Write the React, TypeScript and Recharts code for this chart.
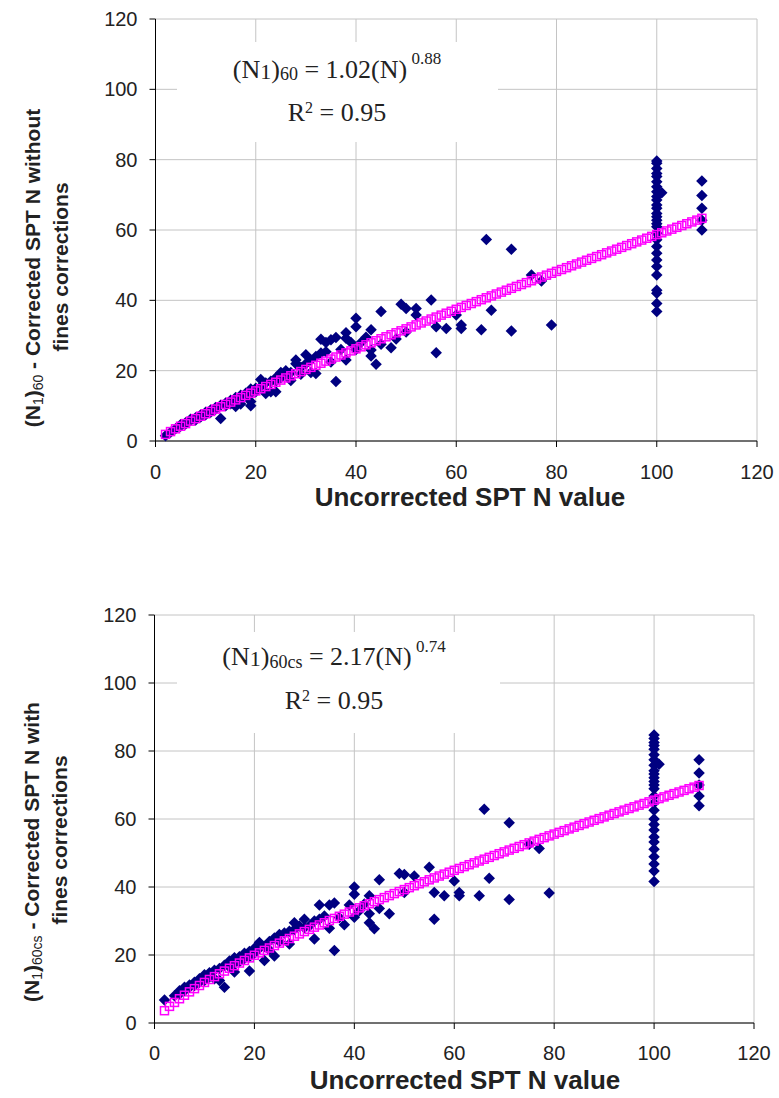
import { CartesianGrid, Scatter, ScatterChart, XAxis, YAxis } from 'recharts'

// uncorrected SPT N, [N, corrected value]
const topObserved: [number, number][] = [
  [2, 1.5], [3, 2.5], [4, 3.5], [5, 4.2], [5, 4.6], [6, 5.2], [6, 4.8], [7, 5.8], [7, 6.2], [8, 6.6], [8, 6.0],
  [9, 7.4], [9, 6.8], [10, 8.2], [10, 7.5], [11, 8.8], [11, 8.2], [12, 9.5], [12, 9.0], [13, 10.2], [13, 6.4],
  [14, 10.8], [14, 10.0], [15, 11.6], [15, 10.6], [16, 12.4], [16, 11.2], [16, 9.8], [17, 13.0], [17, 12.0],
  [17, 10.5], [18, 13.6], [18, 12.8], [19, 14.8], [19, 13.5], [19, 11.2], [19, 10.0], [20, 15.0], [20, 14.0],
  [21, 17.5], [21, 15.5], [22, 16.5], [22, 13.5], [23, 17.0], [23, 14.0], [24, 18.0], [24, 14.0], [24, 17.0],
  [25, 19.5], [25, 18.0], [26, 20.0], [26, 19.0], [27, 19.5], [27, 17.2], [28, 22.0], [28, 23.0], [29, 21.0],
  [29, 19.0], [30, 24.5], [30, 22.0], [31, 23.0], [31, 19.5], [32, 24.0], [32, 19.2], [33, 25.0], [33, 28.9],
  [34, 28.0], [34, 25.4], [35, 28.8], [35, 22.5], [36, 29.4], [36, 16.9], [37, 26.0], [38, 30.8], [38, 29.2],
  [38, 23.0], [39, 28.0], [40, 34.9], [40, 32.5], [40, 26.0], [41, 28.0], [42, 29.5], [43, 31.6], [43, 25.9],
  [43, 24.2], [44, 21.8], [45, 36.8], [45, 27.5], [47, 26.5], [48, 29.0], [49, 38.9], [50, 37.7], [50, 31.0],
  [52, 37.7], [52, 35.8], [55, 40.1], [56, 32.5], [56, 25.1], [58, 32.0], [60, 35.8], [61, 33.0], [61, 32.0],
  [65, 31.6], [66, 57.3], [67, 37.2], [71, 54.5], [71, 31.3], [75, 47.2], [77, 45.5], [79, 33.0], [101, 70.6],
]
const topAt100 = [79.6, 79.0, 77.5, 76.1, 75.2, 73.7, 72.3, 70.9, 69.5, 68.5, 67.1, 66.2, 64.7, 63.8, 62.8,
  61.8, 60.9, 59.1, 57.2, 55.3, 53.4, 51.5, 49.6, 47.2, 42.9, 42.0, 39.1, 36.8]
const topAt109 = [73.9, 69.8, 66.2, 62.8, 60.0]

const bottomObserved: [number, number][] = [
  [2, 6.8], [4, 8.0], [5, 9.5], [5, 8.5], [6, 10.5], [6, 9.5], [7, 11.2], [7, 10.5], [8, 12.0], [8, 11.0],
  [9, 13.0], [9, 12.0], [10, 14.2], [10, 12.5], [11, 14.8], [11, 13.5], [12, 15.5], [12, 13.0], [13, 16.0],
  [13, 12.5], [14, 10.5], [14, 17.0], [15, 18.2], [15, 16.5], [16, 19.2], [16, 17.5], [16, 15.0], [17, 19.5],
  [17, 18.0], [18, 20.5], [18, 19.0], [19, 21.0], [19, 15.3], [19, 19.5], [20, 22.0], [20, 20.5], [21, 23.7],
  [21, 22.0], [22, 18.4], [22, 22.5], [23, 24.0], [23, 21.5], [24, 25.0], [24, 19.7], [25, 26.0], [25, 24.0],
  [26, 26.5], [27, 23.2], [27, 27.0], [28, 29.5], [28, 27.5], [29, 28.5], [30, 30.5], [30, 28.0], [31, 28.5],
  [32, 24.7], [32, 30.0], [33, 34.7], [33, 30.5], [34, 31.5], [35, 34.7], [35, 27.9], [36, 35.3], [36, 21.3],
  [37, 31.0], [38, 28.9], [39, 34.7], [40, 40.0], [40, 37.9], [40, 31.1], [41, 33.0], [42, 35.0], [43, 37.4],
  [43, 32.1], [43, 29.5], [44, 27.7], [45, 42.1], [45, 33.7], [47, 32.1], [49, 44.0], [50, 43.7], [50, 38.4],
  [52, 43.2], [55, 45.8], [56, 38.4], [56, 30.5], [58, 37.4], [60, 41.8], [61, 38.4], [61, 37.4], [65, 37.4],
  [66, 62.9], [67, 42.6], [71, 58.9], [71, 36.3], [75, 52.6], [77, 51.3], [79, 38.2], [101, 76.1],
]
const bottomAt100 = [84.7, 83.7, 82.5, 81.6, 80.5, 78.9, 77.4, 75.8, 74.2, 73.2, 72.1, 71.0, 70.0, 68.9, 66.8,
  64.7, 62.6, 60.0, 58.4, 56.8, 54.7, 53.2, 51.1, 48.9, 46.8, 44.7, 41.6]
const bottomAt109 = [77.4, 73.5, 70.0, 66.8, 63.9]

// trendline markers
const trendN = [2, 3, 4, 5, 6, 7, 8, 9, 10, 11, 12, 13, 14, 15, 16, 17, 18, 19, 20, 21, 22, 23, 24, 25, 26, 27,
  28, 29, 30, 31, 32, 33, 34, 35, 36, 37, 38, 39, 40, 41, 42, 43, 44, 45, 46, 47, 48, 49, 50, 51, 52, 53, 54, 55,
  56, 57, 58, 59, 60, 61, 62, 63, 64, 65, 66, 67, 68, 69, 70, 71, 72, 73, 74, 75, 76, 77, 78, 79, 80, 81, 82, 83,
  84, 85, 86, 87, 88, 89, 90, 91, 92, 93, 94, 95, 96, 97, 98, 99, 100, 101, 102, 103, 104, 105, 106, 107, 108, 109]
const trendTop = [1.88, 2.68, 3.46, 4.2, 4.94, 5.65, 6.36, 7.05, 7.74, 8.41, 9.08, 9.74, 10.4, 11.06, 11.69,
  12.33, 12.97, 13.6, 14.24, 14.86, 15.48, 16.09, 16.71, 17.33, 17.93, 18.54, 19.14, 19.74, 20.35, 20.94, 21.53,
  22.12, 22.71, 23.3, 23.88, 24.46, 25.05, 25.63, 26.21, 26.78, 27.35, 27.92, 28.5, 29.07, 29.63, 30.2, 30.76,
  31.33, 31.89, 32.45, 33.01, 33.57, 34.12, 34.68, 35.24, 35.79, 36.34, 36.89, 37.45, 37.99, 38.54, 39.09, 39.63,
  40.18, 40.72, 41.26, 41.8, 42.34, 42.88, 43.42, 43.96, 44.49, 45.03, 45.57, 46.1, 46.63, 47.16, 47.7, 48.23,
  48.76, 49.29, 49.82, 50.34, 50.87, 51.4, 51.92, 52.45, 52.97, 53.5, 54.02, 54.54, 55.06, 55.58, 56.1, 56.62,
  57.14, 57.66, 58.18, 58.7, 59.21, 59.73, 60.24, 60.76, 61.27, 61.78, 62.3, 62.81, 63.32]
const trendBottom = [3.62, 4.89, 6.05, 7.14, 8.17, 9.16, 10.11, 11.03, 11.93, 12.8, 13.65, 14.47, 15.28, 16.1,
  16.86, 17.63, 18.39, 19.15, 19.92, 20.63, 21.35, 22.06, 22.78, 23.49, 24.17, 24.85, 25.53, 26.21, 26.89, 27.54,
  28.19, 28.84, 29.48, 30.13, 30.76, 31.39, 32.01, 32.64, 33.26, 33.87, 34.48, 35.08, 35.69, 36.29, 36.88, 37.47,
  38.06, 38.65, 39.24, 39.81, 40.38, 40.96, 41.53, 42.11, 42.67, 43.23, 43.79, 44.35, 44.91, 45.46, 46.0, 46.55,
  47.1, 47.65, 48.18, 48.72, 49.26, 49.79, 50.33, 50.86, 51.38, 51.91, 52.44, 52.97, 53.49, 54.01, 54.52, 55.04,
  55.56, 56.07, 56.58, 57.09, 57.6, 58.11, 58.61, 59.11, 59.62, 60.12, 60.62, 61.12, 61.61, 62.1, 62.6, 63.09,
  63.58, 64.07, 64.56, 65.04, 65.53, 66.01, 66.5, 66.98, 67.46, 67.94, 68.42, 68.9, 69.37, 69.85]

const axisTicks = [0, 20, 40, 60, 80, 100, 120]

const SANS = "'Liberation Sans', Arial, sans-serif"
const SERIF = "'Liberation Serif', 'Times New Roman', serif"

function Diamond(props: any) {
  const { cx, cy } = props
  if (cx == null || cy == null) return <g />
  const r = 5.75
  return <polygon points={`${cx},${cy - r} ${cx + r},${cy} ${cx},${cy + r} ${cx - r},${cy}`} fill="#000080" />
}

function Square(props: any) {
  const { cx, cy } = props
  if (cx == null || cy == null) return <g />
  return <rect x={cx - 4} y={cy - 4} width={8} height={8} fill="none" stroke="#ff00ff" strokeWidth={1.5} />
}

function toPoints(pairs: [number, number][], at100: number[], at109: number[]) {
  return [
    ...pairs.map(([x, y]) => ({ x, y })),
    ...at100.map((y) => ({ x: 100, y })),
    ...at109.map((y) => ({ x: 109, y })),
  ]
}

function Plot({ observed, trend, margin, tickMargin }: {
  observed: { x: number; y: number }[]
  trend: number[]
  margin: { top: number; right: number; bottom: number; left: number }
  tickMargin: number
}) {
  const trendData = trendN.map((x, i) => ({ x, y: trend[i] }))
  const tick = { fill: '#222', fontSize: 20, fontFamily: SANS }
  return (
    <ScatterChart width={779} height={540} margin={margin}>
      <CartesianGrid stroke="#c4c4c4" />
      <XAxis type="number" dataKey="x" domain={[0, 120]} ticks={axisTicks} interval={0}
        axisLine={{ stroke: '#000' }} tickLine={{ stroke: '#000' }} tickSize={6} tickMargin={tickMargin}
        tick={tick} height={30} />
      <YAxis type="number" dataKey="y" domain={[0, 120]} ticks={axisTicks} interval={0}
        axisLine={{ stroke: '#000' }} tickLine={{ stroke: '#000' }} tickSize={6} tickMargin={12}
        tick={tick} width={60} />
      <Scatter data={observed} shape={Diamond} isAnimationActive={false} />
      <Scatter data={trendData} shape={Square} isAnimationActive={false} />
    </ScatterChart>
  )
}

export default function App() {
  return (
    <div style={{ position: 'absolute', left: 0, top: 0, width: 779, height: 1098, background: '#fff' }}>
      <div style={{ position: 'absolute', left: 0, top: 0 }}>
        <Plot observed={toPoints(topObserved, topAt100, topAt109)} trend={trendTop}
          margin={{ top: 19, right: 22, bottom: 69, left: 95.5 }} tickMargin={18} />
      </div>
      <div style={{ position: 'absolute', left: 0, top: 560 }}>
        <Plot observed={toPoints(bottomObserved, bottomAt100, bottomAt109)} trend={trendBottom}
          margin={{ top: 55, right: 25, bottom: 47, left: 94.5 }} tickMargin={17} />
      </div>
      <svg width={779} height={1098} style={{ position: 'absolute', left: 0, top: 0, pointerEvents: 'none' }}>
        <rect x={177} y={42} width={321} height={100} fill="#fff" />
        <text x={337} y={78} textAnchor="middle" fontFamily={SERIF} fontSize={26} fill="#222" style={{ whiteSpace: 'pre' }}>
          <tspan>(N</tspan><tspan fontSize={22} dy={1}>1</tspan><tspan dy={-1}>)</tspan>
          <tspan fontSize={18} dy={2}>60</tspan><tspan dy={-2}> = 1.02(N)</tspan>
          <tspan fontSize={17} dy={-14}> 0.88</tspan>
        </text>
        <text x={337} y={121} textAnchor="middle" fontFamily={SERIF} fontSize={26} fill="#222" style={{ whiteSpace: 'pre' }}>
          R<tspan fontSize={16} dy={-8}>2</tspan><tspan dy={8}> = 0.95</tspan>
        </text>

        <rect x={177} y={632} width={323} height={101} fill="#fff" />
        <text x={334} y={665} textAnchor="middle" fontFamily={SERIF} fontSize={26} fill="#222" style={{ whiteSpace: 'pre' }}>
          <tspan>(N</tspan><tspan fontSize={22} dy={1}>1</tspan><tspan dy={-1}>)</tspan>
          <tspan fontSize={18} dy={3}>60cs</tspan><tspan dy={-3}> = 2.17(N)</tspan>
          <tspan fontSize={17} dy={-13}> 0.74</tspan>
        </text>
        <text x={334} y={709} textAnchor="middle" fontFamily={SERIF} fontSize={26} fill="#222" style={{ whiteSpace: 'pre' }}>
          R<tspan fontSize={16} dy={-8}>2</tspan><tspan dy={8}> = 0.95</tspan>
        </text>

        <text x={470} y={506} textAnchor="middle" fontFamily={SANS} fontWeight="bold" fontSize={26} fill="#222">
          Uncorrected SPT N value
        </text>
        <text x={465} y={1089} textAnchor="middle" fontFamily={SANS} fontWeight="bold" fontSize={26} fill="#222">
          Uncorrected SPT N value
        </text>

        <g fontFamily={SANS} fontWeight="bold" fontSize={21} fill="#222" style={{ whiteSpace: 'pre' }}>
          <text x={40} y={268} textAnchor="middle" transform="rotate(-90 40 268)">
            (N<tspan fontWeight="normal" fontSize={14} dy={3}>1</tspan><tspan dy={-3}>)</tspan>
            <tspan fontWeight="normal" fontSize={14} dy={3}>60</tspan><tspan dy={-3}>  - Corrected SPT N without</tspan>
          </text>
          <text x={68} y={267} textAnchor="middle" transform="rotate(-90 68 267)">fines corrections</text>
          <text x={39} y={852} textAnchor="middle" transform="rotate(-90 39 852)">
            (N<tspan fontWeight="normal" fontSize={14} dy={3}>1</tspan><tspan dy={-3}>)</tspan>
            <tspan fontWeight="normal" fontSize={14} dy={3}>60cs</tspan><tspan dy={-3}>  - Corrected SPT N with</tspan>
          </text>
          <text x={67} y={840} textAnchor="middle" transform="rotate(-90 67 840)">fines corrections</text>
        </g>
      </svg>
    </div>
  )
}
